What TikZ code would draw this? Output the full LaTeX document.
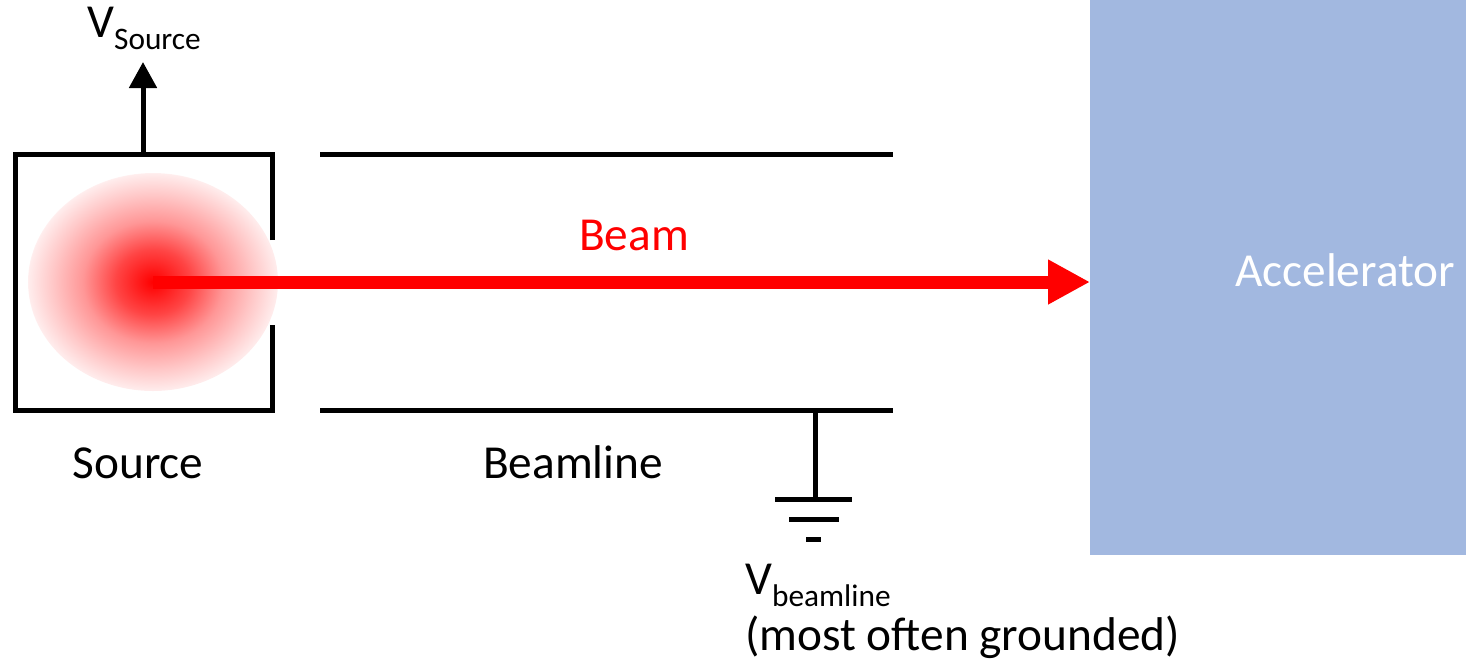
\documentclass[tikz,border=0pt]{standalone}
\usepackage{fontspec}
\setmainfont{Carlito}
\usetikzlibrary{arrows.meta,shapes.geometric}
\definecolor{accblue}{RGB}{162,184,224}
\definecolor{beamred}{RGB}{255,0,0}
\pgfdeclareradialshading{plasmashade}{\pgfpoint{0bp}{0bp}}{%
  color(0bp)=(red);
  color(7.5bp)=(red!73!white);
  color(14bp)=(red!41!white);
  color(20bp)=(red!22!white);
  color(25bp)=(red!7!white);
  color(25.5bp)=(white);
  color(50bp)=(white)}
\newcommand{\mainsize}{\fontsize{35.5pt}{42pt}\selectfont}
\newcommand{\subtxt}[1]{\raisebox{-9pt}{\fontsize{23.5pt}{26pt}\selectfont #1}}
\begin{document}
\begin{tikzpicture}[x=0.75pt,y=-0.75pt,
  wall/.style={line width=3.75pt,line join=miter},
  lbl/.style={font=\mainsize,inner sep=0pt},
  beamarrow/.style={line width=9.75pt,beamred,-{Triangle[width=31.5pt,length=31.5pt]}},
  uparrow/.style={line width=3.75pt,-{Triangle[width=20.25pt,length=19.5pt]}},
  gnd/.style={line width=3.75pt}]
\useasboundingbox (0,0) rectangle (1466,662);
% accelerator
\node[fill=accblue,draw=none,minimum width=282pt,minimum height=416.25pt,inner sep=0pt,anchor=north west] (acc) at (1090,0) {};
\node[lbl,text=white,anchor=base] (acctext) at (1345,286) {Accelerator};
% plasma
\node[ellipse,minimum width=187.5pt,minimum height=163.5pt,inner sep=0pt,shade,shading=plasmashade,draw=none] (plasma) at (153,282) {};
% source box
\draw[wall] (272,240) -- (272,154) -- (15,154) -- (15,410) -- (272,410) -- (272,325);
% beamline walls
\coordinate (blt1) at (320,154);
\coordinate (blt2) at (893,154);
\coordinate (blb1) at (320,410);
\coordinate (blb2) at (893,410);
\draw[wall] (blt1) -- (blt2);
\draw[wall] (blb1) -- (blb2);
% beam
\coordinate (beamend) at (1090,282);
\draw[beamarrow] (plasma.center) -- (beamend);
\node[lbl,text=beamred,anchor=base] (beamlbl) at (634,250) {Beam};
% V source
\coordinate (srctop) at (143,154);
\coordinate (srctip) at (143,62);
\draw[uparrow] (srctop) -- (srctip);
\node[lbl,anchor=base west] (vsrc) at (87,37) {V\subtxt{Source}};
% labels
\node[lbl,anchor=base] (srclbl) at (138,478) {Source};
\node[lbl,anchor=base] (bllbl) at (573,478) {Beamline};
% ground
\coordinate (g0) at (815,410);
\coordinate (g1) at (815,499);
\draw[wall] (g0) -- (g1);
\draw[gnd] (775,499) -- (852,499);
\draw[gnd] (789,519) -- (839,519);
\draw[gnd] (806,539) -- (821,539);
\node[lbl,anchor=base west] (vbl) at (745,594) {V\subtxt{beamline}};
\node[lbl,anchor=base west] (vbl2) at (745,650) {(most often grounded)};
\end{tikzpicture}
\end{document}
